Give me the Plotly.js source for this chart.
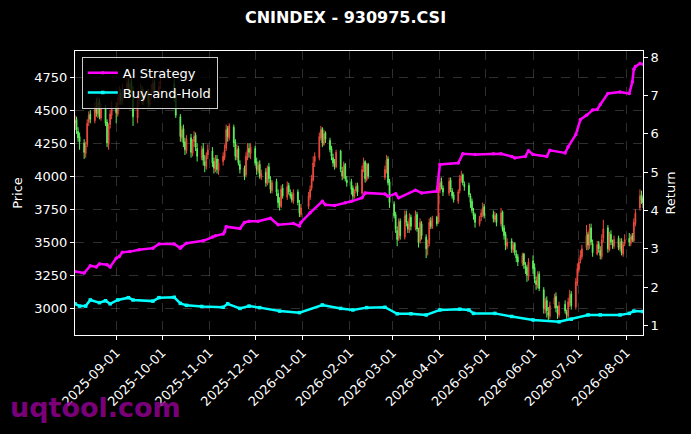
<!DOCTYPE html>
<html>
<head>
<meta charset="utf-8">
<script src="https://cdn.plot.ly/plotly-3.0.1.min.js"></script>
<style>
  html, body { margin: 0; padding: 0; background: #000; }
  #myDiv { width: 691px; height: 434px; }
</style>
</head>
<body>
<div id="myDiv"></div>
<script>
// exchange holidays (weekdays with no trading)
var holidays = ['2025-10-01', '2025-10-02', '2025-10-03', '2025-10-06', '2025-10-07', '2025-10-08',
    '2026-01-01', '2026-01-02', '2026-02-16', '2026-02-17', '2026-02-18', '2026-02-19', '2026-02-20',
    '2026-02-23', '2026-04-06', '2026-05-01', '2026-05-04', '2026-05-05', '2026-06-19'];

// daily OHLC, one row per month (Aug 2025 .. Aug 2026)
var open = [
    4400, 4430, 4340, 4300, 4250, 4170, 4240, 4410, 4470, 4420, 4530, 4470, 4570, 4440, 4520, 4410, 4240, 4390, 4460,
    4530, 4470, 4570, 4630, 4570, 4660, 4710, 4630, 4710, 4650, 4440, 4570, 4610, 4650, 4570, 4630, 4540, 4610, 4640, 4710, 4610, 4690,
    4700, 4610, 4450, 4290, 4360, 4260, 4190, 4290, 4170, 4260, 4310, 4210, 4140, 4210, 4110, 4070, 4160,
    4190, 4110, 4050, 4130, 4040, 4110, 4140, 4210, 4360, 4290, 4370, 4260, 4140, 4210, 4090, 4060, 4010, 4140, 4210, 4170,
    4210, 4110, 4040, 4090, 3990, 4030, 3940, 4070, 3970, 3890, 3960, 3870, 3810, 3770, 3910, 3840, 3930, 3870, 3860, 3810, 3880, 3790, 3710,
    3770, 3840, 3910, 3970, 4110, 4140, 4290, 4360, 4240, 4330, 4270, 4210, 4140, 4110, 4070, 4190, 4040, 3990, 4090, 3970,
    3960, 3910, 3840, 3890, 3930, 3870, 4060, 4110, 3970, 4090, 3990, 4040, 4130, 3960,
    3790, 3710, 3590, 3530, 3660, 3540, 3710, 3640, 3590, 3690, 3610, 3710, 3590, 3510, 3640, 3540, 3460, 3490, 3660, 3610, 3690, 3650,
    3890, 3960, 3910, 3870, 3970, 3890, 3860, 3810, 3890, 3970, 4010, 3940, 3930, 3850, 3810, 3730, 3710, 3640, 3690, 3710, 3770,
    3710, 3670, 3710, 3640, 3730, 3610, 3560, 3470, 3510, 3440, 3490, 3410, 3390, 3340, 3410, 3320, 3310, 3240,
    3360, 3310, 3210, 3170, 3260, 3140, 2990, 3060, 2970, 2940, 3030, 3090, 2990, 2950, 3030, 2970, 2940, 3040, 3110, 3010, 3190,
    3290, 3360, 3390, 3460, 3560, 3470, 3610, 3490, 3410, 3490, 3440, 3390, 3530, 3610, 3440, 3560, 3490, 3470, 3530, 3450, 3510, 3410, 3490,
    3530, 3490, 3550, 3510, 3640, 3760, 3860, 3830
];
var high = [
    4460, 4450, 4370, 4330, 4280, 4260, 4430, 4490, 4500, 4560, 4590, 4600, 4590, 4550, 4540, 4430, 4400, 4500, 4570,
    4560, 4600, 4680, 4660, 4700, 4760, 4740, 4780, 4740, 4680, 4600, 4650, 4700, 4680, 4660, 4660, 4640, 4700, 4760, 4730, 4720, 4780,
    4740, 4640, 4470, 4380, 4390, 4290, 4310, 4320, 4280, 4340, 4330, 4250, 4230, 4250, 4160, 4180, 4240,
    4220, 4140, 4160, 4160, 4130, 4180, 4240, 4390, 4380, 4400, 4390, 4280, 4240, 4230, 4120, 4080, 4180, 4250, 4250, 4250,
    4230, 4140, 4110, 4120, 4050, 4060, 4080, 4100, 4000, 3970, 3980, 3900, 3840, 3930, 3940, 3960, 3950, 3900, 3880, 3900, 3900, 3820, 3790,
    3880, 3930, 4010, 4150, 4180, 4330, 4380, 4370, 4350, 4340, 4290, 4230, 4170, 4130, 4200, 4200, 4070, 4110, 4100, 4000,
    3980, 3930, 3900, 3950, 3950, 4080, 4140, 4120, 4100, 4100, 4080, 4160, 4150, 3980,
    3810, 3730, 3620, 3680, 3680, 3740, 3740, 3660, 3720, 3710, 3740, 3730, 3610, 3680, 3660, 3560, 3520, 3680, 3690, 3700, 3700, 3950,
    3990, 3990, 3930, 3990, 3990, 3910, 3880, 3900, 4010, 4040, 4020, 3960, 3950, 3870, 3830, 3760, 3720, 3700, 3750, 3800, 3790,
    3740, 3730, 3720, 3760, 3740, 3630, 3580, 3530, 3530, 3500, 3500, 3440, 3410, 3420, 3420, 3350, 3330, 3380,
    3400, 3340, 3240, 3280, 3280, 3160, 3080, 3090, 3010, 3050, 3110, 3120, 3020, 3050, 3060, 2990, 3080, 3140, 3130, 3230, 3340,
    3380, 3440, 3480, 3630, 3580, 3640, 3640, 3520, 3510, 3510, 3470, 3560, 3670, 3630, 3580, 3590, 3520, 3550, 3550, 3530, 3530, 3500, 3560,
    3570, 3560, 3570, 3680, 3750, 3900, 3890, 3850
];
var low = [
    4350, 4320, 4260, 4200, 4130, 4140, 4220, 4380, 4400, 4400, 4450, 4440, 4430, 4420, 4380, 4220, 4200, 4360, 4430,
    4400, 4450, 4540, 4540, 4540, 4620, 4600, 4600, 4620, 4380, 4400, 4540, 4580, 4540, 4540, 4520, 4520, 4580, 4620, 4580, 4590, 4660,
    4560, 4440, 4260, 4260, 4220, 4160, 4170, 4140, 4150, 4220, 4190, 4110, 4120, 4080, 4030, 4050, 4130,
    4070, 4020, 4030, 4020, 4010, 4080, 4120, 4190, 4260, 4270, 4220, 4120, 4120, 4080, 4020, 3970, 3990, 4120, 4140, 4130,
    4080, 4010, 4020, 3980, 3970, 3920, 3930, 3950, 3870, 3870, 3850, 3760, 3740, 3760, 3830, 3820, 3860, 3830, 3800, 3790, 3780, 3690, 3690,
    3750, 3820, 3890, 3960, 4070, 4120, 4270, 4220, 4230, 4250, 4180, 4120, 4070, 4050, 4060, 4030, 3970, 3980, 3960, 3920,
    3860, 3820, 3830, 3870, 3850, 3860, 4030, 3950, 3960, 3980, 3970, 4020, 3930, 3760,
    3680, 3570, 3470, 3510, 3520, 3520, 3620, 3570, 3570, 3590, 3590, 3580, 3460, 3490, 3520, 3380, 3400, 3470, 3600, 3600, 3620, 3640,
    3870, 3900, 3850, 3850, 3880, 3830, 3800, 3790, 3870, 3950, 3930, 3890, 3840, 3760, 3720, 3670, 3610, 3620, 3660, 3690, 3680,
    3650, 3650, 3620, 3620, 3580, 3520, 3440, 3450, 3420, 3420, 3400, 3350, 3320, 3320, 3300, 3260, 3200, 3210,
    3260, 3190, 3140, 3150, 3130, 2960, 2960, 2930, 2910, 2920, 3000, 2970, 2920, 2930, 2960, 2920, 2920, 3010, 2990, 2990, 3170,
    3270, 3340, 3370, 3440, 3440, 3450, 3480, 3390, 3400, 3420, 3370, 3370, 3500, 3420, 3430, 3480, 3450, 3450, 3440, 3430, 3400, 3390, 3470,
    3470, 3470, 3500, 3500, 3620, 3740, 3790, 3760
];
var close = [
    4420, 4350, 4290, 4260, 4180, 4230, 4400, 4460, 4430, 4520, 4480, 4560, 4450, 4510, 4400, 4250, 4380, 4470, 4520,
    4480, 4560, 4620, 4580, 4650, 4700, 4640, 4700, 4660, 4450, 4560, 4600, 4640, 4580, 4620, 4550, 4600, 4650, 4700, 4620, 4680, 4720,
    4600, 4460, 4300, 4350, 4250, 4200, 4280, 4180, 4250, 4300, 4220, 4150, 4200, 4120, 4080, 4150, 4200,
    4100, 4060, 4120, 4050, 4100, 4150, 4200, 4350, 4300, 4380, 4250, 4150, 4200, 4100, 4050, 4000, 4150, 4200, 4180, 4220,
    4100, 4050, 4080, 4000, 4020, 3950, 4060, 3980, 3900, 3950, 3880, 3800, 3780, 3900, 3850, 3920, 3880, 3850, 3820, 3870, 3800, 3720, 3760,
    3850, 3900, 3980, 4100, 4150, 4300, 4350, 4250, 4320, 4280, 4200, 4150, 4100, 4080, 4180, 4050, 4000, 4080, 3980, 3950,
    3900, 3850, 3880, 3920, 3880, 4050, 4100, 3980, 4080, 4000, 4050, 4120, 3950, 3800,
    3700, 3600, 3520, 3650, 3550, 3700, 3650, 3600, 3680, 3620, 3700, 3600, 3500, 3650, 3550, 3450, 3480, 3650, 3620, 3680, 3640, 3900,
    3950, 3920, 3880, 3960, 3900, 3850, 3820, 3880, 3980, 4000, 3950, 3920, 3860, 3800, 3740, 3700, 3650, 3680, 3720, 3760, 3700,
    3680, 3700, 3650, 3720, 3600, 3550, 3480, 3500, 3450, 3480, 3420, 3380, 3350, 3400, 3330, 3300, 3250, 3350,
    3300, 3220, 3180, 3250, 3150, 3000, 3050, 2980, 2950, 3020, 3080, 3000, 2960, 3020, 2980, 2950, 3050, 3100, 3020, 3200, 3300,
    3350, 3400, 3450, 3550, 3480, 3600, 3500, 3420, 3480, 3450, 3400, 3520, 3600, 3450, 3550, 3500, 3480, 3520, 3460, 3500, 3420, 3480, 3520,
    3500, 3540, 3520, 3650, 3720, 3850, 3820, 3800
];

// strategy curves (return multiple)
var aiDates = ['2025-08-05', '2025-08-11', '2025-08-15', '2025-08-19', '2025-08-21', '2025-08-26', '2025-08-28',
    '2025-09-01', '2025-09-03', '2025-09-05', '2025-09-10', '2025-09-16', '2025-09-25', '2025-09-29',
    '2025-10-09', '2025-10-13', '2025-10-14', '2025-10-17', '2025-10-28', '2025-11-03', '2025-11-05',
    '2025-11-10', '2025-11-11', '2025-11-12', '2025-11-21', '2025-11-24', '2025-11-27', '2025-12-03',
    '2025-12-11', '2025-12-16', '2025-12-26', '2025-12-30', '2025-12-31', '2026-01-06', '2026-01-14',
    '2026-01-16', '2026-01-22', '2026-01-29', '2026-02-02', '2026-02-09', '2026-02-11', '2026-02-24',
    '2026-02-26', '2026-03-03', '2026-03-05', '2026-03-16', '2026-03-20', '2026-03-30', '2026-04-01',
    '2026-04-13', '2026-04-16', '2026-04-24', '2026-05-06', '2026-05-11', '2026-05-18', '2026-05-20',
    '2026-05-27', '2026-05-29', '2026-06-01', '2026-06-10', '2026-06-12', '2026-06-22', '2026-06-24',
    '2026-06-29', '2026-07-02', '2026-07-06', '2026-07-10', '2026-07-13', '2026-07-15', '2026-07-20',
    '2026-07-28', '2026-08-03', '2026-08-05', '2026-08-06', '2026-08-07', '2026-08-10', '2026-08-12'];
var aiReturn = [2.41, 2.37, 2.56, 2.53, 2.61, 2.59, 2.53,
    2.76, 2.80, 2.91, 2.93, 2.98, 3.02, 3.13,
    3.13, 3.02, 3.06, 3.15, 3.21, 3.31, 3.34,
    3.39, 3.45, 3.58, 3.53, 3.69, 3.72, 3.72,
    3.80, 3.63, 3.66, 3.60, 3.69, 3.94, 4.24,
    4.15, 4.13, 4.20, 4.24, 4.33, 4.46, 4.43,
    4.37, 4.44, 4.33, 4.53, 4.46, 4.50, 5.20,
    5.24, 5.48, 5.46, 5.48, 5.48, 5.41, 5.37,
    5.41, 5.56, 5.46, 5.41, 5.57, 5.50, 5.66,
    5.98, 6.37, 6.48, 6.62, 6.63, 6.76, 7.05,
    7.09, 7.05, 7.35, 7.68, 7.75, 7.83, 7.81];

var bhDates = ['2025-08-05', '2025-08-08', '2025-08-12', '2025-08-15', '2025-08-21', '2025-08-25', '2025-08-28',
    '2025-09-02', '2025-09-09', '2025-09-12', '2025-09-25', '2025-09-29', '2025-10-09', '2025-10-13',
    '2025-10-17', '2025-10-27', '2025-11-10', '2025-11-13', '2025-11-21', '2025-11-27', '2025-12-04',
    '2025-12-17', '2025-12-30', '2026-01-14', '2026-01-26', '2026-02-03', '2026-02-12', '2026-02-24',
    '2026-03-04', '2026-03-13', '2026-03-23', '2026-04-01', '2026-04-14', '2026-04-20', '2026-04-23',
    '2026-05-07', '2026-05-18', '2026-06-01', '2026-06-18', '2026-06-26', '2026-07-07', '2026-07-15',
    '2026-07-28', '2026-08-03', '2026-08-06', '2026-08-12'];
var bhReturn = [1.57, 1.51, 1.51, 1.67, 1.60, 1.65, 1.57,
    1.67, 1.73, 1.67, 1.64, 1.73, 1.74, 1.58,
    1.53, 1.50, 1.48, 1.57, 1.45, 1.51, 1.47,
    1.38, 1.34, 1.54, 1.45, 1.41, 1.47, 1.48,
    1.31, 1.31, 1.28, 1.41, 1.43, 1.41, 1.32,
    1.32, 1.24, 1.15, 1.10, 1.17, 1.28, 1.28,
    1.28, 1.32, 1.38, 1.37];

var priceTicks = [3000, 3250, 3500, 3750, 4000, 4250, 4500, 4750];
var returnTicks = [1, 2, 3, 4, 5, 6, 7, 8];
var monthTicks = ['2025-09-01', '2025-10-01', '2025-11-01', '2025-12-01', '2026-01-01', '2026-02-01',
    '2026-03-01', '2026-04-01', '2026-05-01', '2026-06-01', '2026-07-01', '2026-08-01'];

// trading calendar between first and last session
function tradingDays(start, end) {
    var out = [];
    var d = new Date(start + 'T00:00:00Z');
    var stop = new Date(end + 'T00:00:00Z');
    while (d <= stop) {
        var s = d.toISOString().slice(0, 10);
        var wd = d.getUTCDay();
        if (wd !== 0 && wd !== 6 && holidays.indexOf(s) < 0) out.push(s);
        d.setUTCDate(d.getUTCDate() + 1);
    }
    return out;
}
var dates = tradingDays('2025-08-05', '2026-08-12');

var white = '#ffffff';
var font = 'DejaVu Sans, sans-serif';

var candles = {
    type: 'candlestick',
    x: dates, open: open, high: high, low: low, close: close,
    increasing: {line: {color: '#f04a3e', width: 1}, fillcolor: '#f04a3e'},
    decreasing: {line: {color: '#5cf25c', width: 1}, fillcolor: '#5cf25c'},
    whiskerwidth: 0,
    showlegend: false,
    hoverinfo: 'skip'
};

var ai = {
    type: 'scatter', mode: 'lines+markers', name: 'AI Strategy',
    x: aiDates, y: aiReturn, yaxis: 'y2',
    line: {color: '#ff00ff', width: 2.5},
    marker: {symbol: 'circle', size: 3.5, color: '#ff00ff'}
};

var bh = {
    type: 'scatter', mode: 'lines+markers', name: 'Buy-and-Hold',
    x: bhDates, y: bhReturn, yaxis: 'y2',
    line: {color: '#00ffff', width: 2.5},
    marker: {symbol: 'square', size: 3.5, color: '#00ffff'}
};

var layout = {
    width: 691, height: 434,
    paper_bgcolor: '#000000', plot_bgcolor: '#000000',
    margin: {l: 75, r: 48, t: 51, b: 99},
    font: {family: font, color: white, size: 13},
    title: {text: '<b>CNINDEX - 930975.CSI</b>', font: {family: font, size: 16, color: white},
        x: 0.5, xanchor: 'center', y: 0.96, yanchor: 'middle'},
    showlegend: true,
    legend: {x: 0.012, y: 0.98, xanchor: 'left', yanchor: 'top',
        bgcolor: 'rgba(0,0,0,0.8)', bordercolor: '#cccccc', borderwidth: 1,
        font: {family: font, size: 13, color: white}, tracegroupgap: 0},
    xaxis: {
        type: 'date', range: ['2025-08-05', '2026-08-12'],
        rangeslider: {visible: false},
        tickmode: 'array', tickvals: monthTicks, ticktext: monthTicks,
        tickangle: -45, ticks: 'outside', ticklen: 4, tickcolor: white,
        tickfont: {family: font, size: 13, color: white},
        showgrid: true, gridcolor: 'rgba(140,140,140,0.55)', griddash: 'dash', gridwidth: 0.6,
        showline: true, linecolor: white, linewidth: 1, mirror: true, zeroline: false
    },
    yaxis: {
        range: [2798, 4947], tickmode: 'array', tickvals: priceTicks,
        ticks: 'outside', ticklen: 4, tickcolor: white,
        tickfont: {family: font, size: 13, color: white},
        title: {text: 'Price', font: {family: font, size: 13, color: white}, standoff: 8},
        showgrid: true, gridcolor: 'rgba(140,140,140,0.55)', griddash: 'dash', gridwidth: 0.6,
        showline: true, linecolor: white, linewidth: 1, mirror: true, zeroline: false
    },
    yaxis2: {
        overlaying: 'y', side: 'right',
        range: [0.757, 8.157], tickmode: 'array', tickvals: returnTicks,
        ticks: 'outside', ticklen: 4, tickcolor: white,
        tickfont: {family: font, size: 13, color: white},
        title: {text: 'Return', font: {family: font, size: 13, color: white}, standoff: 8},
        showgrid: false, showline: true, linecolor: white, linewidth: 1, zeroline: false
    },
    annotations: [{
        text: '<b>uqtool.com</b>', xref: 'paper', yref: 'paper',
        x: -0.118, y: -0.255, xanchor: 'left', yanchor: 'middle', showarrow: false,
        font: {family: font, size: 27, color: 'rgba(140,0,140,0.9)'}
    }]
};

Plotly.newPlot('myDiv', [candles, ai, bh], layout, {displayModeBar: false, staticPlot: true});
</script>
</body>
</html>
